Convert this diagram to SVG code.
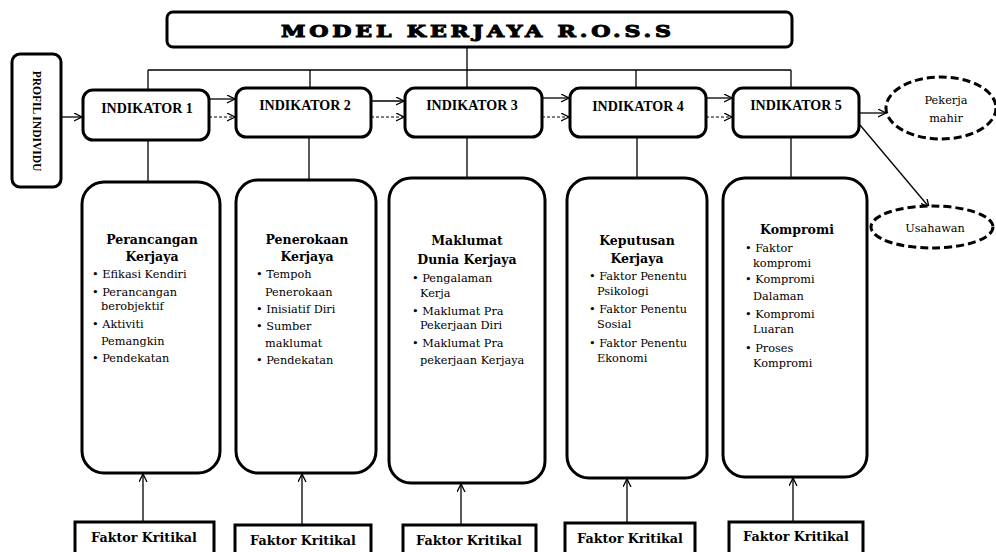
<svg xmlns="http://www.w3.org/2000/svg" width="996" height="552" viewBox="0 0 996 552">
<defs>
<marker id="arr" markerWidth="10" markerHeight="10" refX="8" refY="4" orient="auto" markerUnits="userSpaceOnUse">
<path d="M0,0 L8,4 L0,8" fill="none" stroke="#000" stroke-width="1.3"/>
</marker>
</defs>
<style>
.box{fill:#fff;stroke:#000;stroke-width:3}
.ln{fill:none;stroke:#000;stroke-width:1.3}
.dash{fill:none;stroke:#000;stroke-width:1.2;stroke-dasharray:3,2}
.ell{fill:#fff;stroke:#000;stroke-width:3;stroke-dasharray:8,4}
.ind{font-weight:bold;font-size:14px;text-anchor:middle}
.ttl{font-weight:bold;font-size:12.5px;text-anchor:middle}
.bl{font-size:11.3px}
.fk{font-weight:bold;font-size:12.7px;text-anchor:middle}
.oc{font-size:11.3px;text-anchor:middle}
</style>
<rect width="996" height="552" fill="#fff"/>

<g id="connectors">
<path class="ln" d="M467,47 V70 M148,70 H791 M148,70 V90 M310,70 V88 M467,70 V88 M636,70 V88 M791,70 V88"/>
<path class="ln" d="M148,140 V182 M309,137 V180 M467,137 V178 M637,137 V178 M791,137 V178"/>
<line class="ln" x1="61" y1="117" x2="82" y2="117" marker-end="url(#arr)"/>
<line class="ln" x1="209" y1="99" x2="235" y2="99" marker-end="url(#arr)"/>
<line class="dash" x1="209" y1="117" x2="235" y2="117" marker-end="url(#arr)"/>
<line class="ln" x1="371" y1="101" x2="404" y2="101" marker-end="url(#arr)"/>
<line class="dash" x1="371" y1="117" x2="404" y2="117" marker-end="url(#arr)"/>
<line class="ln" x1="542" y1="98" x2="569" y2="98" marker-end="url(#arr)"/>
<line class="dash" x1="542" y1="117" x2="569" y2="117" marker-end="url(#arr)"/>
<line class="ln" x1="706" y1="98" x2="732" y2="98" marker-end="url(#arr)"/>
<line class="dash" x1="706" y1="117" x2="732" y2="117" marker-end="url(#arr)"/>
<line class="ln" x1="859" y1="113" x2="886" y2="113" marker-end="url(#arr)"/>
<line class="ln" x1="860" y1="125" x2="929" y2="207" marker-end="url(#arr)"/>
<line class="ln" x1="143" y1="522" x2="143" y2="474" marker-end="url(#arr)"/>
<line class="ln" x1="302" y1="525" x2="302" y2="474" marker-end="url(#arr)"/>
<line class="ln" x1="461" y1="525" x2="461" y2="484" marker-end="url(#arr)"/>
<line class="ln" x1="627" y1="523" x2="627" y2="479" marker-end="url(#arr)"/>
<line class="ln" x1="793" y1="522" x2="793" y2="478" marker-end="url(#arr)"/>
</g>

<g id="title">
<rect class="box" x="167" y="12" width="625" height="35" rx="6"/>
<text transform="translate(476,37) scale(1.3,1)" x="0" y="0" font-family="DejaVu Serif, serif" font-weight="900" font-size="17" text-anchor="middle" textLength="300" lengthAdjust="spacing" stroke="#000" stroke-width="1">MODEL KERJAYA R.O.S.S</text>
</g>

<g id="profil">
<rect class="box" x="12" y="54" width="49" height="133" rx="8"/>
<text transform="translate(33,121) rotate(90)" font-family="Liberation Serif, serif" font-weight="bold" font-size="11.5" text-anchor="middle">PROFIL INDIVIDU</text>
</g>

<g font-family="Liberation Serif, serif">
<g id="ind1"><rect class="box" x="83" y="90" width="126" height="50" rx="10"/><text class="ind" x="147" y="113">INDIKATOR  1</text></g>
<g id="ind2"><rect class="box" x="236" y="88" width="135" height="49" rx="10"/><text class="ind" x="305" y="110">INDIKATOR  2</text></g>
<g id="ind3"><rect class="box" x="405" y="88" width="137" height="49" rx="10"/><text class="ind" x="472" y="110">INDIKATOR  3</text></g>
<g id="ind4"><rect class="box" x="570" y="88" width="136" height="49" rx="10"/><text class="ind" x="638" y="111">INDIKATOR  4</text></g>
<g id="ind5"><rect class="box" x="733" y="88" width="126" height="49" rx="10"/><text class="ind" x="796" y="110">INDIKATOR  5</text></g>
</g>

<g font-family="DejaVu Serif, serif">
<g id="pekerja"><ellipse class="ell" cx="941" cy="108" rx="55" ry="31"/><text class="oc" x="946" y="104">Pekerja</text><text class="oc" x="946" y="122">mahir</text></g>
<g id="usahawan"><ellipse class="ell" cx="932" cy="227" rx="61" ry="21"/><text class="oc" x="935" y="232">Usahawan</text></g>

<g id="box1">
<rect class="box" x="82" y="182" width="138" height="291" rx="22"/>
<text class="ttl" x="152" y="244">Perancangan</text>
<text class="ttl" x="152" y="261">Kerjaya</text>
<text class="bl" x="92" y="278">• Efikasi Kendiri</text>
<text class="bl" x="92" y="296">• Perancangan</text>
<text class="bl" x="101" y="310">berobjektif</text>
<text class="bl" x="92" y="328">• Aktiviti</text>
<text class="bl" x="101" y="345">Pemangkin</text>
<text class="bl" x="92" y="362">• Pendekatan</text>
</g>

<g id="box2">
<rect class="box" x="236" y="180" width="140" height="293" rx="22"/>
<text class="ttl" x="307" y="244">Penerokaan</text>
<text class="ttl" x="307" y="261">Kerjaya</text>
<text class="bl" x="256" y="278">• Tempoh</text>
<text class="bl" x="265" y="296">Penerokaan</text>
<text class="bl" x="256" y="313">• Inisiatif Diri</text>
<text class="bl" x="256" y="330">• Sumber</text>
<text class="bl" x="265" y="347">maklumat</text>
<text class="bl" x="256" y="364">• Pendekatan</text>
</g>

<g id="box3">
<rect class="box" x="389" y="178" width="156" height="305" rx="22"/>
<text class="ttl" x="467" y="245">Maklumat</text>
<text class="ttl" x="467" y="264">Dunia Kerjaya</text>
<text class="bl" x="412" y="282">• Pengalaman</text>
<text class="bl" x="420" y="297">Kerja</text>
<text class="bl" x="412" y="315">• Maklumat Pra</text>
<text class="bl" x="420" y="329">Pekerjaan  Diri</text>
<text class="bl" x="412" y="347">• Maklumat Pra</text>
<text class="bl" x="420" y="364">pekerjaan Kerjaya</text>
</g>

<g id="box4">
<rect class="box" x="567" y="178" width="140" height="300" rx="22"/>
<text class="ttl" x="637" y="245">Keputusan</text>
<text class="ttl" x="637" y="263">Kerjaya</text>
<text class="bl" x="589" y="280">• Faktor Penentu</text>
<text class="bl" x="597" y="295">Psikologi</text>
<text class="bl" x="589" y="313">• Faktor Penentu</text>
<text class="bl" x="597" y="328">Sosial</text>
<text class="bl" x="589" y="347">• Faktor Penentu</text>
<text class="bl" x="597" y="362">Ekonomi</text>
</g>

<g id="box5">
<rect class="box" x="723" y="178" width="144" height="299" rx="22"/>
<text class="ttl" x="797" y="234">Kompromi</text>
<text class="bl" x="745" y="252">• Faktor</text>
<text class="bl" x="753" y="267">kompromi</text>
<text class="bl" x="745" y="283">• Kompromi</text>
<text class="bl" x="753" y="300">Dalaman</text>
<text class="bl" x="745" y="318">• Kompromi</text>
<text class="bl" x="753" y="333">Luaran</text>
<text class="bl" x="745" y="352">• Proses</text>
<text class="bl" x="753" y="367">Kompromi</text>
</g>

<g id="fk1"><rect class="box" x="75" y="522" width="139" height="36"/><text class="fk" x="144" y="542">Faktor Kritikal</text></g>
<g id="fk2"><rect class="box" x="235" y="525" width="136" height="33"/><text class="fk" x="303" y="545">Faktor Kritikal</text></g>
<g id="fk3"><rect class="box" x="403" y="525" width="133" height="33"/><text class="fk" x="469" y="545">Faktor Kritikal</text></g>
<g id="fk4"><rect class="box" x="565" y="523" width="130" height="35"/><text class="fk" x="630" y="543">Faktor Kritikal</text></g>
<g id="fk5"><rect class="box" x="729" y="522" width="134" height="36"/><text class="fk" x="796" y="541">Faktor Kritikal</text></g>
</g>
</svg>
